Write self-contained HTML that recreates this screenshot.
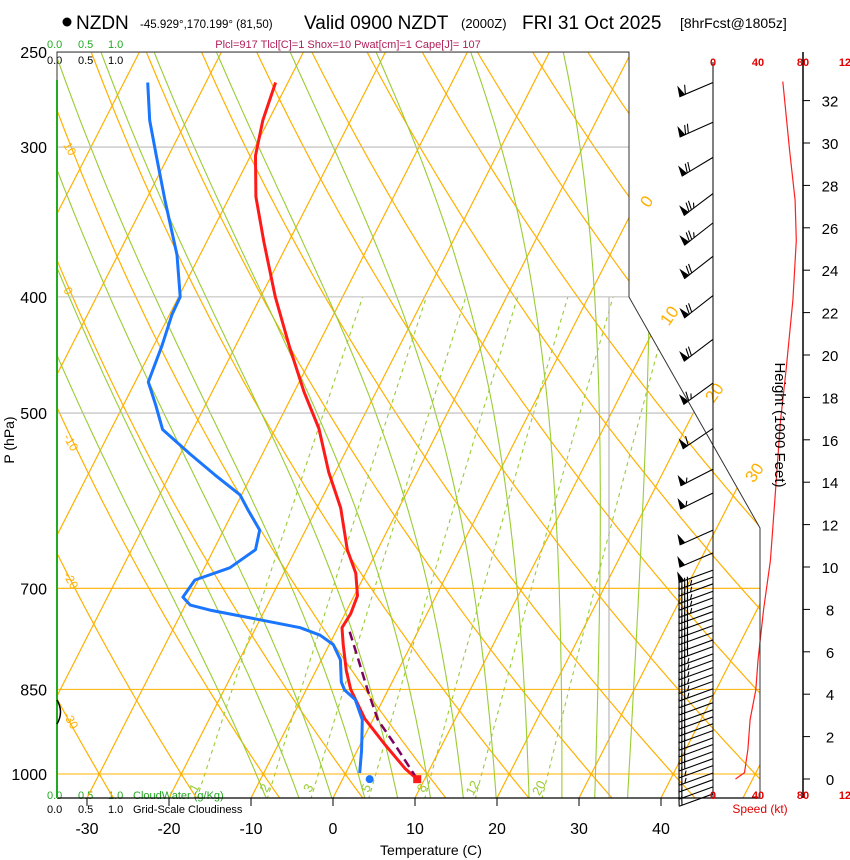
<!DOCTYPE html>
<html><head><meta charset="utf-8"><title>Skew-T NZDN</title>
<style>
body{margin:0;background:#fff;width:850px;height:860px;overflow:hidden}
svg{display:block;font-family:"Liberation Sans",Arial,sans-serif}
</style></head>
<body>
<svg id="chart" width="850" height="860" viewBox="0 0 850 860" xmlns="http://www.w3.org/2000/svg">
<defs><clipPath id="plotClip"><polygon points="57,52 629,52 629,297 760,528 760,798 57,798"/></clipPath></defs>
<g>
<circle cx="67" cy="22" r="4.5" fill="#000"/>
<text x="76" y="29" font-size="19">NZDN</text>
<text x="140" y="28" font-size="11.5">-45.929°,170.199° (81,50)</text>
<text x="304" y="29" font-size="19">Valid 0900 NZDT</text>
<text x="461" y="28" font-size="13">(2000Z)</text>
<text x="522" y="29" font-size="19">FRI 31 Oct 2025</text>
<text x="680" y="28" font-size="14">[8hrFcst@1805z]</text>
</g>
<text x="348" y="48" font-size="11" fill="#b0205a" text-anchor="middle">Plcl=917 Tlcl[C]=1 Shox=10 Pwat[cm]=1 Cape[J]= 107</text>
<g font-size="11">
<text x="47" y="48" fill="#22aa22">0.0</text><text x="78" y="48" fill="#22aa22">0.5</text><text x="108" y="48" fill="#22aa22">1.0</text>
<text x="47" y="64" fill="#000">0.0</text><text x="78" y="64" fill="#000">0.5</text><text x="108" y="64" fill="#000">1.0</text>
</g>
<g font-size="11">
<text x="47" y="799" fill="#22aa22">0.0</text><text x="78" y="799" fill="#22aa22">0.5</text><text x="108" y="799" fill="#22aa22">1.0</text><text x="133" y="799" fill="#22aa22">CloudWater (g/Kg)</text>
<text x="47" y="813" fill="#000">0.0</text><text x="78" y="813" fill="#000">0.5</text><text x="108" y="813" fill="#000">1.0</text><text x="133" y="813" fill="#000">Grid-Scale Cloudiness</text>
</g>
<g id="grid" clip-path="url(#plotClip)"></g>
<g id="series"></g>
<g id="axes"></g>
<text x="14" y="440" font-size="14" text-anchor="middle" transform="rotate(-90 14 440)">P (hPa)</text>
<text x="431" y="855" font-size="14" text-anchor="middle">Temperature (C)</text>
<text x="775" y="425" font-size="15" transform="rotate(90 775 425)" text-anchor="middle">Height (1000 Feet)</text>
<text x="760" y="813" font-size="12" fill="#e00000" text-anchor="middle">Speed (kt)</text>
</svg>
<script>
// ---- data ----
const tempPres=[265,285,305,330,360,400,440,480,515,560,600,650,680,710,735,755,780,820,850,900,945,990,1010];
const tempVals=[-51.5,-50.7,-49.4,-46.8,-43,-38.2,-33.4,-28.8,-24.7,-20.8,-17.1,-13.7,-11.2,-9.6,-9.3,-9.5,-8.3,-6.3,-4.6,-1,3,7,9.1];
const dewPres=[265,285,305,332,369,400,414,439,471,492,516,541,563,585,602,626,650,673,689,712,723,730,741,755,766,780,803,838,851,867,901,955,998];
const dewVals=[-67.1,-64.5,-61.5,-57.7,-52.8,-49.8,-49.7,-49,-48.4,-46.1,-43.7,-38.8,-34.5,-30.2,-28.3,-25.6,-24.9,-26.9,-30.4,-30.8,-29.4,-26.7,-21.3,-14.6,-11.7,-9.5,-7.7,-6.2,-5.3,-3.4,-1.3,0.5,1.7];
const parcelPres=[761,803,851,901,946,1010];
const parcelVals=[-8.3,-5.5,-2.5,0.6,4.3,9.1];
const sfcTemp=9.1, sfcDew=3.3, sfcPres=1010;
const tempTicks=[-30,-20,-10,0,10,20,30,40];
const presTicks=[250,300,400,500,700,850,1000];
const mixRatios=[1,2,3,5,8,12,20];
const heightTicks=[0,2,4,6,8,10,12,14,16,18,20,22,24,26,28,30,32];
const speedTicks=[0,40,80,120];
const spdHeights=[32.9,29.7,27.3,25.4,22.6,19.3,16.9,13.2,10.3,8.0,5.6,4.2,2.8,1.4,0.3,0];
const spdVals=[62,68,73,74,71,65,60,55,51,45,40,38,33,31,28,20];
const barbPres=[265,286,306,328,347,370,399,434,472,515,557,583,626,654,676,685,694,704,713,723,732,742,752,762,773,783,794,804,815,826,837,849,860,872,884,896,908,920,933,945,958,971,984,998,1011,1025,1039];
const barbDir=[247,246,239,233,232,232,232,233,234,236,243,244,246,247,250,250,250,250,250,250,250,250,250,250,250,250,250,250,250,250,250,250,250,250,250,250,250,250,250,250,250,250,250,250,250,250,250];
const barbSpd=[62,68,72,74,74,72,71,68,64,60,57,55,52,50,48,47,46,45,44,43,42,41,40,40,39,38,37,36,35,34,33,33,32,32,31,31,30,30,29,29,28,28,27,25,22,20,20];

// ---- scales ----
const NS="http://www.w3.org/2000/svg";
function yP(p){return 774-520.7*Math.log(1000/p);}
function xT(T,p){return 333+8.2*T+0.51*(798-yP(p));}
function xSpd(s){return 713+s*45/40;}
function yH(h){return 779-h*21.2;}
function mk(tag,attrs,parent){const e=document.createElementNS(NS,tag);for(const k in attrs)e.setAttribute(k,attrs[k]);parent.appendChild(e);return e;}
const grid=document.getElementById('grid'),series=document.getElementById('series'),axes=document.getElementById('axes');
function pathFrom(pts){return pts.map((q,i)=>(i?'L':'M')+q[0].toFixed(1)+','+q[1].toFixed(1)).join(' ');}
const pLevels=[];for(let p=1050;p>=245;p-=5)pLevels.push(p);

// isotherms
for(let T=-110;T<=50;T+=10){
 const el=mk('line',{x1:xT(T,1050),y1:yP(1050),x2:xT(T,240),y2:yP(240),stroke:'#ffb000','stroke-width':1.2},grid);
 
 
}
// dry adiabats
for(let th=-40;th<=160;th+=10){
 const pts=pLevels.map(p=>[xT((th+273.15)*Math.pow(p/1000,0.2857)-273.15,p),yP(p)]);
 const el=mk('path',{d:pathFrom(pts),fill:'none',stroke:'#ffb000','stroke-width':1.2},grid);
 
 
}
// moist adiabats
function es(T){return 6.112*Math.exp(17.67*T/(T+243.5));}
for(let tw=-8;tw<=36;tw+=4){
 let T=tw+273.15;const pts=[];
 for(let p=1050;p>=245;p-=5){
  pts.push([xT(T-273.15,p),yP(p)]);
  const e=es(T-273.15),rs=0.622*e/(p-e);
  const dTdp=(287*T+2.5e6*rs)/(p*(1004+2.5e6*2.5e6*rs*0.622/(287*T*T)));
  T-=dTdp*5;
 }
 const el=mk('path',{d:pathFrom(pts),fill:'none',stroke:'#99cc33','stroke-width':1.1},grid);
 
 
}
// mixing ratio lines
function tdFromW(w,p){const e=w*p/(622+w);const l=Math.log(e/6.112);return 243.5*l/(17.67-l);}
mixRatios.forEach(w=>{
 const pts=[];for(let p=1050;p>=400;p-=10)pts.push([xT(tdFromW(w,p),p),yP(p)]);
 const el=mk('path',{d:pathFrom(pts),fill:'none',stroke:'#99cc33','stroke-width':1.1,'stroke-dasharray':'4,4'},grid);
 
 
 const lx=xT(tdFromW(w,1040),1040),ly=790;
 const t=mk('text',{x:lx,y:ly,'font-size':13,fill:'#99cc33',transform:`rotate(-62 ${lx} ${ly})`,'text-anchor':'middle'},axes);
 t.textContent=w;
 
 
});
// gray vertical
mk('line',{x1:609,y1:297,x2:609,y2:798,stroke:'#aaaaaa','stroke-width':1},grid);
// pressure lines
presTicks.forEach(p=>{
 const y=yP(p);const col=p>=700?'#ffb000':'#bbbbbb';
 const el=mk('line',{x1:57,y1:y,x2:760,y2:y,stroke:col,'stroke-width':1.1},grid);
 
 
 const t=mk('text',{x:47,y:y+6,'font-size':16,'text-anchor':'end'},axes);
 t.textContent=p;
 
 
});
// isotherm labels
[[0,640,200],[10,660,318],[20,705,395],[30,745,475]].forEach(a=>{
 const t=mk('text',{x:a[1],y:a[2]+8,'font-size':17,fill:'#ffb000',transform:`rotate(-55 ${a[1]+5} ${a[2]})`},axes);
 t.textContent=a[0];
 
 
});
[['10',63,145],['0',63,290],['-10',63,437],['-20',63,575],['-30',63,715]].forEach(a=>{
 const t=mk('text',{x:a[1],y:a[2],'font-size':12,fill:'#ffb000',transform:`rotate(60 ${a[1]} ${a[2]})`},axes);
 t.textContent=a[0];
 
 
});
// frame
mk('polyline',{points:'57,798 57,52 629,52 629,297 760,528 760,798',fill:'none',stroke:'#333','stroke-width':1},axes);
mk('line',{x1:57,y1:798,x2:760,y2:798,stroke:'#000','stroke-width':1.2},axes);
mk('line',{x1:57,y1:80,x2:57,y2:798,stroke:'#22aa22','stroke-width':2},axes);
mk('path',{d:'M57,700 Q64,712 57,724',fill:'none',stroke:'#000','stroke-width':1.5},axes);
// temp ticks
tempTicks.forEach(T=>{
 const x=333+8.2*T;
 mk('line',{x1:x,y1:798,x2:x,y2:806,stroke:'#000'},axes);
 const t=mk('text',{x:x,y:834,'font-size':16,'text-anchor':'middle'},axes);
 t.textContent=T;
 
 
});
// series
function prof(P,V,color,w,dash,name){
 const pts=P.map((p,i)=>[xT(V[i],p),yP(p)]);
 const el=mk('path',{d:pathFrom(pts),fill:'none',stroke:color,'stroke-width':w,'stroke-linejoin':'round'},series);
 if(dash)el.setAttribute('stroke-dasharray',dash);
 
 
}
prof(tempPres,tempVals,'#ff1a1a',3,null,'temperature-line');
prof(dewPres,dewVals,'#1a75ff',3,null,'dewpoint-line');
prof(parcelPres,parcelVals,'#800060',2.5,'9,5','parcel-path');
const sq=mk('rect',{x:xT(sfcTemp,sfcPres)-4,y:yP(sfcPres)-4,width:8,height:8,fill:'#ff1a1a'},series);


const dc=mk('circle',{cx:xT(sfcDew,sfcPres),cy:yP(sfcPres),r:4,fill:'#1a75ff'},series);


// right panel
mk('line',{x1:713,y1:62,x2:713,y2:798,stroke:'#000','stroke-width':1},axes);
mk('line',{x1:803,y1:52,x2:803,y2:798,stroke:'#000','stroke-width':1.5},axes);
speedTicks.forEach(s=>{
 const x=xSpd(s);
 [66,799].forEach(y=>{const t=mk('text',{x:x,y:y,'font-size':11,'font-weight':'bold',fill:'#e00000','text-anchor':'middle'},axes);t.textContent=s;
 
 });
});
heightTicks.forEach(h=>{
 const y=yH(h);
 mk('line',{x1:803,y1:y,x2:810,y2:y,stroke:'#000'},axes);
 const t=mk('text',{x:830,y:y+6,'font-size':15,'text-anchor':'middle'},axes);
 t.textContent=h;
 
 
});
const sp=mk('path',{d:pathFrom(spdHeights.map((h,i)=>[xSpd(spdVals[i]),yH(h)])),fill:'none',stroke:'#ff2020','stroke-width':1.2},series);


// barbs
barbPres.forEach((p,i)=>{
 const y=yP(p),d=barbDir[i]*Math.PI/180;
 const ux=Math.sin(d),uy=-Math.cos(d),L=36;
 const ex=713+ux*L,ey=y+uy*L;
 const g=mk('g',{stroke:'#000','stroke-width':1.1,fill:'#000'},series);
 
 
 mk('line',{x1:713,y1:y,x2:ex,y2:ey},g);
 let s=Math.round(barbSpd[i]/5)*5,pos=0;
 const px=-uy,py=ux; // perpendicular pointing upward
 const bl=9;
 while(s>=50){
  const bx=ex-ux*pos,by=ey-uy*pos;
  mk('polygon',{points:`${bx},${by} ${bx+px*bl-ux*2},${by+py*bl-uy*2} ${bx-ux*5},${by-uy*5}`},g);
  pos+=6;s-=50;
 }
 while(s>=5){
  const bx=ex-ux*pos,by=ey-uy*pos;
  const len=s>=10?bl:bl/2;
  mk('line',{x1:bx,y1:by,x2:bx+px*len-ux*3,y2:by+py*len-uy*3,fill:'none'},g);
  s-=s>=10?10:5;pos+=3;
 }
});
</script>
</body></html>
